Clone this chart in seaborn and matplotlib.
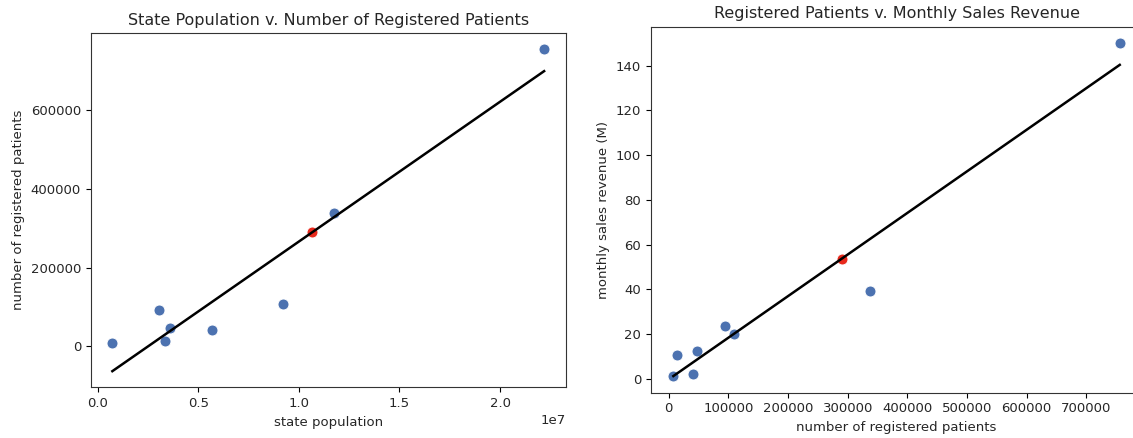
import numpy as np
import pandas as pd
import matplotlib
matplotlib.use("Agg")
import matplotlib.pyplot as plt
import seaborn as sns

# --- data ---
state_population = [0.73e6, 3.03e6, 3.36e6, 3.60e6, 5.70e6, 9.21e6, 11.73e6, 22.19e6]
registered_patients = [7600, 93400, 12900, 46800, 40100, 108600, 337800, 756000]
monthly_revenue_m = [1.3, 23.6, 10.8, 12.6, 2.4, 20.0, 39.1, 150.0]

# highlighted (predicted) state
highlight_population = [10.65e6]
highlight_patients = [290500]
highlight_revenue_m = [53.6]

blue = "#4c72b0"
red = "#e8291c"

df = pd.DataFrame({
    "population": state_population,
    "patients": registered_patients,
    "revenue": monthly_revenue_m,
})
hl = pd.DataFrame({
    "population": highlight_population,
    "patients": highlight_patients,
    "revenue": highlight_revenue_m,
})

plt.rcParams["font.family"] = ["DejaVu Sans"]
plt.rcParams["xtick.labelsize"] = 9.5
plt.rcParams["ytick.labelsize"] = 9.5
plt.rcParams["axes.labelsize"] = 9.5
plt.rcParams["axes.titlesize"] = 11.5
plt.rcParams["text.color"] = "#262626"
plt.rcParams["axes.labelcolor"] = "#262626"
plt.rcParams["xtick.labelcolor"] = "#262626"
plt.rcParams["ytick.labelcolor"] = "#262626"
plt.rcParams["axes.edgecolor"] = "#333333"

fig = plt.figure(figsize=(11.33, 4.38), dpi=100)
ax1 = fig.add_axes([0.0801, 0.1158, 0.4192, 0.8089])
ax2 = fig.add_axes([0.5746, 0.1034, 0.4334, 0.8356])

# --- left: state population v. registered patients ---
sns.scatterplot(data=df, x="population", y="patients", color=blue, s=62, ax=ax1)
sns.scatterplot(data=hl, x="population", y="patients", color=red, s=62, ax=ax1)
sns.regplot(data=df, x="population", y="patients", scatter=False, ci=None,
            color="black", line_kws={"linewidth": 1.8}, ax=ax1)
ax1.set_title("State Population v. Number of Registered Patients")
ax1.set_xlabel("state population")
ax1.set_ylabel("number of registered patients")

# --- right: registered patients v. monthly revenue ---
sns.scatterplot(data=df, x="patients", y="revenue", color=blue, s=62, ax=ax2)
sns.scatterplot(data=hl, x="patients", y="revenue", color=red, s=62, ax=ax2)
sns.regplot(data=df, x="patients", y="revenue", scatter=False, ci=None,
            color="black", line_kws={"linewidth": 1.8}, ax=ax2)
ax2.set_title("Registered Patients v. Monthly Sales Revenue")
ax2.set_xlabel("number of registered patients")
ax2.set_ylabel("monthly sales revenue (M)")

for ax in (ax1, ax2):
    ax.margins(0.05)

fig.savefig("out.png", dpi=100)
